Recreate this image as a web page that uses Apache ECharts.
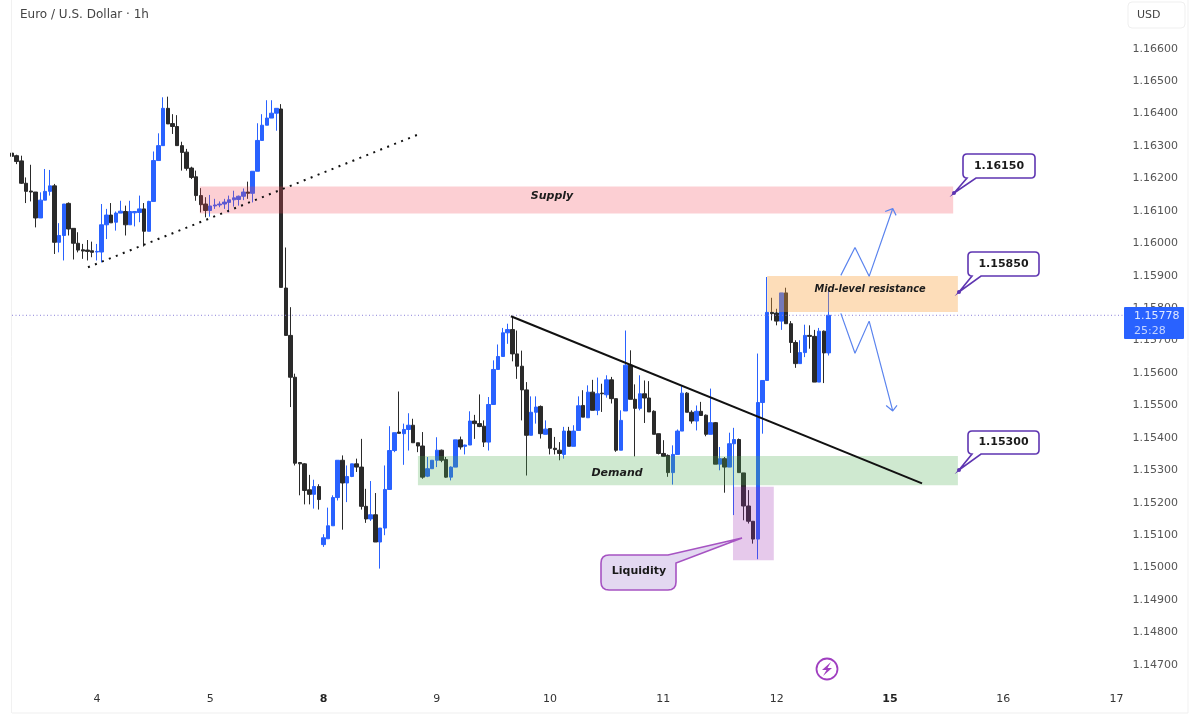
<!DOCTYPE html>
<html><head><meta charset="utf-8">
<style>html,body{margin:0;padding:0;background:#fff}#c{width:1200px;height:727px}</style>
<script src="https://cdn.jsdelivr.net/npm/echarts@6/dist/echarts.min.js"></script>
</head><body><div id="c"></div>
<script>
const opens=[1.16278,1.16270,1.16254,1.16185,1.16161,1.16158,1.16078,1.16133,1.16160,1.16177,
1.16003,1.16024,1.16123,1.16046,1.16000,1.15980,1.15979,1.15977,1.15973,1.15973,
1.16057,1.16087,1.16065,1.16093,1.16098,1.16057,1.16094,1.16095,1.16106,1.16037,
1.16129,1.16255,1.16301,1.16416,1.16369,1.16360,1.16301,1.16281,1.16232,1.16205,
1.16147,1.16121,1.16101,1.16115,1.16118,1.16121,1.16126,1.16134,1.16135,1.16145,
1.16158,1.16154,1.16222,1.16317,1.16364,1.16386,1.16401,1.16414,1.15862,1.15716,
1.15587,1.15324,1.15320,1.15240,1.15226,1.15250,1.15071,1.15089,1.15129,1.15216,
1.15331,1.15261,1.15281,1.15320,1.15310,1.15189,1.15150,1.15163,1.15079,1.15122,
1.15241,1.15361,1.15418,1.15413,1.15426,1.15439,1.15385,1.15375,1.15282,1.15305,
1.15331,1.15362,1.15333,1.15279,1.15310,1.15394,1.15374,1.15378,1.15452,1.15444,
1.15436,1.15387,1.15503,1.15611,1.15651,1.15724,1.15734,1.15659,1.15621,1.15548,
1.15408,1.15479,1.15497,1.15411,1.15429,1.15368,1.15362,1.15349,1.15421,1.15374,
1.15423,1.15500,1.15462,1.15541,1.15485,1.15538,1.15533,1.15579,1.15521,1.15362,
1.15483,1.15624,1.15519,1.15491,1.15536,1.15523,1.15482,1.15413,1.15352,1.15346,
1.15293,1.15349,1.15421,1.15538,1.15479,1.15452,1.15482,1.15470,1.15411,1.15447,
1.15319,1.15336,1.15310,1.15382,1.15395,1.15292,1.15190,1.15143,1.15088,1.15509,
1.15577,1.15787,1.15785,1.15760,1.15847,1.15752,1.15694,1.15629,1.15663,1.15716,
1.15713,1.15572,1.15729,1.15662];
const closes=[1.16268,1.16252,1.16185,1.16160,1.16158,1.16078,1.16133,1.16160,1.16177,1.16003,
1.16024,1.16121,1.16044,1.16000,1.15979,1.15976,1.15975,1.15972,1.15975,1.16057,
1.16087,1.16063,1.16093,1.16099,1.16057,1.16098,1.16098,1.16106,1.16037,1.16129,
1.16255,1.16301,1.16416,1.16368,1.16360,1.16301,1.16280,1.16231,1.16203,1.16147,
1.16119,1.16101,1.16115,1.16118,1.16121,1.16127,1.16134,1.16140,1.16145,1.16158,
1.16154,1.16222,1.16317,1.16364,1.16386,1.16401,1.16416,1.15864,1.15716,1.15587,
1.15322,1.15320,1.15238,1.15226,1.15250,1.15210,1.15092,1.15129,1.15216,1.15331,
1.15261,1.15281,1.15320,1.15310,1.15189,1.15150,1.15163,1.15079,1.15122,1.15241,
1.15361,1.15416,1.15414,1.15426,1.15439,1.15385,1.15375,1.15279,1.15305,1.15331,
1.15362,1.15331,1.15279,1.15310,1.15394,1.15372,1.15378,1.15452,1.15444,1.15435,
1.15387,1.15503,1.15611,1.15651,1.15724,1.15734,1.15659,1.15621,1.15548,1.15408,
1.15479,1.15495,1.15413,1.15427,1.15368,1.15364,1.15352,1.15421,1.15374,1.15421,
1.15499,1.15464,1.15541,1.15485,1.15536,1.15536,1.15579,1.15521,1.15362,1.15454,
1.15624,1.15519,1.15491,1.15536,1.15523,1.15480,1.15411,1.15352,1.15343,1.15293,
1.15349,1.15421,1.15538,1.15479,1.15452,1.15482,1.15469,1.15411,1.15447,1.15319,
1.15336,1.15310,1.15382,1.15395,1.15293,1.15190,1.15143,1.15088,1.15509,1.15577,
1.15787,1.15783,1.15760,1.15847,1.15752,1.15694,1.15629,1.15663,1.15716,1.15713,
1.15572,1.15729,1.15662,1.15778];
const lows=[1.16263,1.16244,1.16183,1.16124,1.16129,1.16049,1.16078,1.16133,1.16147,1.15967,
1.15972,1.15947,1.16024,1.15950,1.15972,1.15952,1.15947,1.15957,1.15947,1.15941,
1.16013,1.16063,1.16039,1.16093,1.16024,1.16057,1.16052,1.16065,1.15990,1.16037,
1.16129,1.16255,1.16301,1.16368,1.16337,1.16301,1.16224,1.16224,1.16198,1.16131,
1.16095,1.16080,1.16082,1.16106,1.16111,1.16106,1.16095,1.16113,1.16116,1.16133,
1.16137,1.16126,1.16222,1.16317,1.16364,1.16386,1.16347,1.15864,1.15716,1.15495,
1.15315,1.15223,1.15195,1.15195,1.15182,1.15179,1.15064,1.15089,1.15129,1.15207,
1.15117,1.15202,1.15279,1.15295,1.15179,1.15138,1.15144,1.15079,1.14997,1.15100,
1.15240,1.15356,1.15414,1.15317,1.15361,1.15385,1.15356,1.15274,1.15279,1.15305,
1.15310,1.15325,1.15277,1.15269,1.15310,1.15364,1.15349,1.15378,1.15397,1.15433,
1.15372,1.15361,1.15503,1.15611,1.15651,1.15690,1.15636,1.15582,1.15454,1.15284,
1.15408,1.15444,1.15398,1.15411,1.15349,1.15349,1.15331,1.15336,1.15374,1.15374,
1.15423,1.15464,1.15462,1.15485,1.15470,1.15480,1.15524,1.15506,1.15357,1.15362,
1.15483,1.15519,1.15343,1.15485,1.15446,1.15480,1.15411,1.15349,1.15341,1.15280,
1.15256,1.15349,1.15421,1.15479,1.15444,1.15423,1.15469,1.15405,1.15411,1.15319,
1.15300,1.15231,1.15310,1.15162,1.15293,1.15146,1.15136,1.15074,1.15026,1.15413,
1.15577,1.15762,1.15747,1.15733,1.15752,1.15662,1.15616,1.15629,1.15649,1.15675,
1.15572,1.15572,1.15569,1.15654];
const highs=[1.16293,1.16273,1.16270,1.16203,1.16242,1.16158,1.16157,1.16229,1.16226,1.16183,
1.16062,1.16121,1.16126,1.16046,1.16034,1.15998,1.16010,1.16005,1.15998,1.16121,
1.16106,1.16124,1.16098,1.16131,1.16116,1.16131,1.16098,1.16147,1.16124,1.16131,
1.16283,1.16339,1.16450,1.16452,1.16398,1.16395,1.16313,1.16291,1.16236,1.16224,
1.16170,1.16142,1.16149,1.16137,1.16129,1.16137,1.16147,1.16162,1.16147,1.16169,
1.16190,1.16222,1.16370,1.16398,1.16441,1.16441,1.16416,1.16429,1.15987,1.15803,
1.15598,1.15324,1.15322,1.15286,1.15271,1.15257,1.15103,1.15185,1.15223,1.15331,
1.15346,1.15315,1.15320,1.15336,1.15397,1.15243,1.15267,1.15230,1.15122,1.15315,
1.15436,1.15416,1.15543,1.15444,1.15476,1.15459,1.15385,1.15418,1.15341,1.15331,
1.15402,1.15364,1.15341,1.15312,1.15394,1.15404,1.15379,1.15482,1.15471,1.15534,
1.15454,1.15526,1.15639,1.15688,1.15739,1.15752,1.15775,1.15731,1.15669,1.15572,
1.15528,1.15528,1.15500,1.15454,1.15429,1.15403,1.15387,1.15434,1.15434,1.15439,
1.15528,1.15547,1.15562,1.15579,1.15586,1.15567,1.15593,1.15588,1.15521,1.15485,
1.15731,1.15670,1.15565,1.15593,1.15577,1.15575,1.15485,1.15413,1.15393,1.15349,
1.15377,1.15426,1.15559,1.15541,1.15485,1.15500,1.15511,1.15472,1.15552,1.15449,
1.15372,1.15341,1.15416,1.15431,1.15398,1.15292,1.15239,1.15143,1.15660,1.15577,
1.15896,1.15832,1.15798,1.15847,1.15863,1.15760,1.15701,1.15701,1.15749,1.15747,
1.15733,1.15739,1.15731,1.15855];

const slotCount=236;
const dayTickIndex=[18,42,66,90,114,138,162,186,210,234];
const dayTickLabels=['4','5','8','9','10','11','12','15','16','17'];
const boldDays=['8','15'];
const lastPrice=1.15778;
const countdown='25:28';

// zones: [barFrom, barTo, priceTop, priceBottom]
const supplyZone=[39.8,199.4,1.16175,1.16092];
const midZone=[160,200.4,1.15899,1.15788];
const demandZone=[86,200.4,1.15344,1.15254];
const liquidityZone=[152.75,161.4,1.15249,1.15023];

const dottedTrend=[[16.1,1.15926],[86,1.16335]];
const fallingTrend=[[105.7,1.15775],[192.8,1.15260]];
const upArrow=[[175.6,1.15901],[178.6,1.15987],[181.6,1.15898],[186.6,1.16107],[185,1.16098],[186.6,1.16107],[187.3,1.16086]];
const downArrow=[[175.6,1.15784],[178.6,1.15661],[181.6,1.15760],[186.6,1.15483],[185.2,1.15500],[186.6,1.15483],[187.5,1.15500]];

const FONT='"DejaVu Sans"';
const BLUE='#2962ff', BLACK='#2a2a2a';

function corner(px,py,cx,cy,qx,qy){
  const out=[];
  for(let t=0;t<=1.001;t+=0.25){
    const u=1-t;
    out.push([u*u*px+2*u*t*cx+t*t*qx,u*u*py+2*u*t*cy+t*t*qy]);
  }
  return out;
}
function callout(x0,y0,x1,y1,r,bx0,bx1,tx,ty){
  return [
    ...corner(x0,y0+r,x0,y0,x0+r,y0),
    ...corner(x1-r,y0,x1,y0,x1,y0+r),
    ...corner(x1,y1-r,x1,y1,x1-r,y1),
    [bx1,y1],[tx,ty],[bx0,y1],
    ...corner(x0+r,y1,x0,y1,x0,y1-r)
  ];
}
function box(points,label,cx,cy,dx,dy){
  return [
    {type:'polygon',z:50,shape:{points},style:{fill:'#fff',stroke:'#5e35b1',lineWidth:1.6}},
    {type:'circle',z:51,shape:{cx:dx,cy:dy,r:2},style:{fill:'#5e35b1'}},
    {type:'text',z:52,style:{x:cx,y:cy,text:label,align:'center',verticalAlign:'middle',font:'bold 11px '+FONT,fill:'#1a1a1a'}}
  ];
}
const liquidityPoints=[
  ...corner(601,563,601,555,609,555),
  [668,555],[742,538],[676,563],
  ...corner(676,582,676,590,668,590),
  ...corner(609,590,601,590,601,582)
];

const chart=echarts.init(document.getElementById('c'),null,{renderer:'canvas'});
const zoneSeries=(zone,fill)=>({
  type:'custom',xAxisIndex:1,yAxisIndex:0,z:5,silent:true,clip:false,
  data:[zone],encode:{x:[0,1],y:[2,3]},
  renderItem:(p,api)=>{
    const a=api.coord([api.value(0),api.value(2)]),b=api.coord([api.value(1),api.value(3)]);
    return {type:'rect',shape:{x:a[0],y:a[1],width:b[0]-a[0],height:b[1]-a[1]},style:{fill}};
  }
});
const lineSeries=(data,color,width,type)=>({
  type:'line',xAxisIndex:1,yAxisIndex:0,z:6,silent:true,symbol:'none',data,
  lineStyle:{color,width,type:type||'solid'},animation:false
});
chart.setOption({
  animation:false,
  backgroundColor:'#ffffff',
  grid:{left:9.64,top:-0.7,width:1113.92,height:714.3,containLabel:false},
  tooltip:{show:false},
  xAxis:[
    {type:'category',data:Array.from({length:slotCount},(_,i)=>{const k=dayTickIndex.indexOf(i);return k<0?'':dayTickLabels[k];}),
     boundaryGap:true,axisLine:{show:false},axisTick:{show:false},splitLine:{show:false},
     axisLabel:{inside:true,margin:9,interval:(i)=>dayTickIndex.includes(i),hideOverlap:false,
       color:'#333',fontFamily:FONT,fontSize:11,
       formatter:(v)=>boldDays.includes(v)?`{b|${v}}`:v,
       rich:{b:{fontWeight:'bold',fontFamily:FONT,fontSize:11,color:'#222'}}}},
    {type:'value',min:-0.5,max:slotCount-0.5,show:false,splitLine:{show:false}}
  ],
  yAxis:{type:'value',position:'right',min:1.1455,max:1.1675,interval:0.0005,scale:true,
    axisLine:{show:false},axisTick:{show:false},splitLine:{show:false},
    axisLabel:{margin:9,color:'#555',fontFamily:FONT,fontSize:11,showMinLabel:true,showMaxLabel:true,
      formatter:(v)=>{const n=Math.round(v*1e5);return (n%100===0&&n>=114700&&n<=116600)?(n/1e5).toFixed(5):'';}}},
  series:[
    {type:'candlestick',xAxisIndex:0,yAxisIndex:0,z:2,barWidth:4,silent:true,
     data:opens.map((o,i)=>[o,closes[i],lows[i],highs[i]]),
     itemStyle:{color:BLUE,color0:BLACK,borderColor:BLUE,borderColor0:BLACK,borderWidth:1}},
    zoneSeries(supplyZone,'rgba(242,70,85,0.26)'),
    zoneSeries(midZone,'rgba(250,160,60,0.36)'),
    zoneSeries(demandZone,'rgba(76,175,80,0.27)'),
    zoneSeries(liquidityZone,'rgba(156,39,176,0.25)'),
    lineSeries([[0,lastPrice],[slotCount-0.5,lastPrice]],'#8a80d8',1,[1,2.5]),
    lineSeries(dottedTrend,'#111',2,[2,5.5]),
    lineSeries(fallingTrend,'#111',2),
    lineSeries(upArrow,'#5b84ee',1.2),
    lineSeries(downArrow,'#5b84ee',1.2)
  ],
  graphic:[
    {type:'line',z:40,shape:{x1:11.5,y1:0,x2:11.5,y2:713},style:{stroke:'#f1f1f1',lineWidth:1}},
    {type:'line',z:40,shape:{x1:1188,y1:0,x2:1188,y2:713},style:{stroke:'#f1f1f1',lineWidth:1}},
    {type:'line',z:40,shape:{x1:12,y1:713,x2:1188,y2:713},style:{stroke:'#efefef',lineWidth:1}},
    {type:'text',z:50,style:{x:20,y:15,text:'Euro / U.S. Dollar · 1h',verticalAlign:'middle',font:'12px '+FONT,fill:'#444'}},
    {type:'rect',z:40,shape:{x:1128,y:2,width:57,height:26,r:4},style:{fill:'#fff',stroke:'#efefef',lineWidth:1}},
    {type:'text',z:50,style:{x:1137,y:15,text:'USD',verticalAlign:'middle',font:'11px '+FONT,fill:'#444'}},
    {type:'rect',z:60,shape:{x:1124,y:307,width:60,height:32,r:1},style:{fill:BLUE}},
    {type:'text',z:61,style:{x:1134,y:316,text:lastPrice.toFixed(5),verticalAlign:'middle',font:'11px '+FONT,fill:'#dfe8ff'}},
    {type:'text',z:61,style:{x:1134,y:331,text:countdown,verticalAlign:'middle',font:'11px '+FONT,fill:'#c4d4ff'}},
    {type:'text',z:30,style:{x:552,y:196,text:'Supply',align:'center',verticalAlign:'middle',font:'italic bold 11px '+FONT,fill:'#1c1c1c'}},
    {type:'text',z:30,style:{x:617,y:473,text:'Demand',align:'center',verticalAlign:'middle',font:'italic bold 11px '+FONT,fill:'#1c1c1c'}},
    {type:'text',z:30,style:{x:870,y:289,text:'Mid-level resistance',align:'center',verticalAlign:'middle',font:'italic bold 9.8px '+FONT,fill:'#1c1c1c'}},
    ...box(callout(963,154,1035,178,4,967,976,954,193),'1.16150',999,166,954,193),
    ...box(callout(968,252,1039,276,4,972,981,959,292),'1.15850',1003.5,264,959,292),
    ...box(callout(968,431,1039,454,4,972,981,959,470),'1.15300',1003.5,442.5,959,470),
    {type:'polygon',z:50,shape:{points:liquidityPoints},style:{fill:'#e3d8f1',stroke:'#a653c2',lineWidth:1.6}},
    {type:'text',z:52,style:{x:639,y:571,text:'Liquidity',align:'center',verticalAlign:'middle',font:'bold 11px '+FONT,fill:'#1a1a1a'}},
    {type:'circle',z:50,shape:{cx:827,cy:669,r:10.5},style:{fill:'#fff',stroke:'#a03fc0',lineWidth:1.8}},
    {type:'polygon',z:51,shape:{points:[[831,662],[822,670],[826.5,670],[823,676],[832,668],[827.5,668]]},style:{fill:'#a03fc0'}}
  ]
});
</script></body></html>
